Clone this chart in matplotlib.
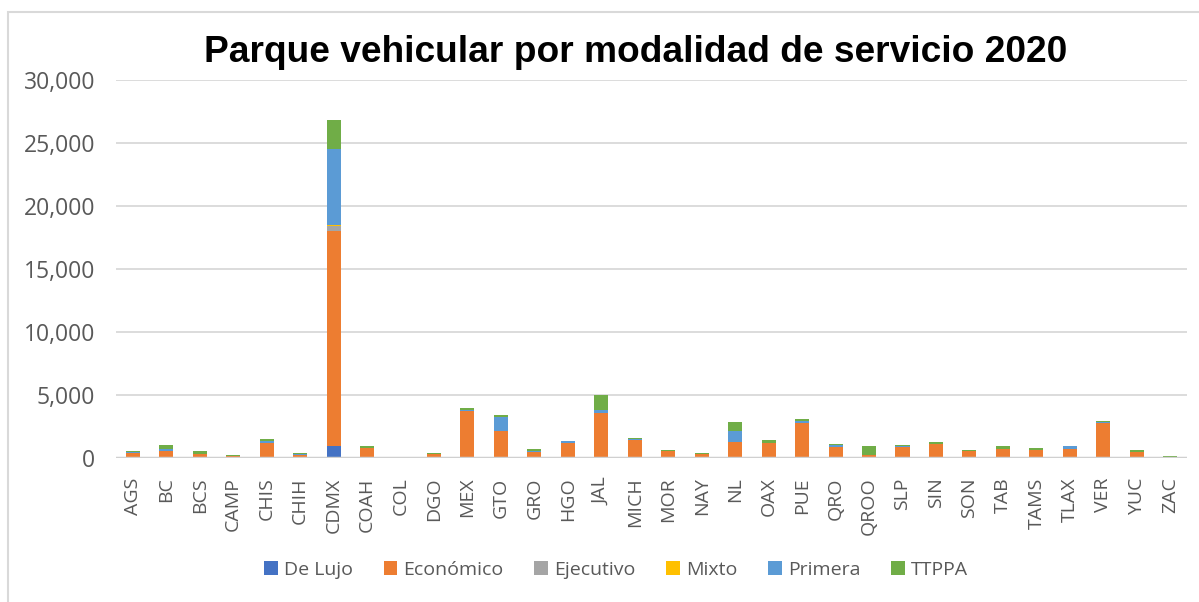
import matplotlib
matplotlib.use("Agg")
import matplotlib.pyplot as plt
from matplotlib.patches import Rectangle, Patch
import numpy as np

categories = ["AGS", "BC", "BCS", "CAMP", "CHIS", "CHIH", "CDMX", "COAH", "COL", "DGO",
              "MEX", "GTO", "GRO", "HGO", "JAL", "MICH", "MOR", "NAY", "NL", "OAX",
              "PUE", "QRO", "QROO", "SLP", "SIN", "SON", "TAB", "TAMS", "TLAX", "VER",
              "YUC", "ZAC"]

de_lujo = [0, 0, 0, 0, 0, 0, 950, 0, 0, 0,
           0, 0, 0, 0, 0, 0, 0, 0, 0, 0,
           0, 0, 0, 0, 0, 0, 0, 0, 0, 0,
           0, 0]
economico = [400, 560, 290, 130, 1190, 265, 17100, 770, 10, 290,
             3730, 2120, 450, 1220, 3570, 1400, 556, 290, 1245, 1190,
             2780, 900, 210, 850, 1085, 556, 715, 610, 715, 2750,
             450, 100]
ejecutivo = [0, 0, 0, 0, 0, 0, 400, 0, 0, 0,
             0, 0, 0, 0, 0, 0, 0, 0, 0, 0,
             0, 0, 0, 0, 0, 0, 0, 0, 0, 0,
             0, 0]
mixto = [0, 0, 0, 0, 0, 0, 80, 0, 0, 0,
         0, 0, 0, 0, 0, 0, 0, 0, 0, 0,
         0, 0, 0, 0, 0, 0, 0, 0, 0, 0,
         0, 0]
primera = [50, 160, 0, 0, 130, 40, 6030, 0, 0, 0,
           80, 1110, 105, 105, 210, 80, 0, 0, 873, 30,
           185, 105, 0, 105, 0, 0, 0, 53, 210, 80,
           0, 0]
ttppa = [80, 290, 238, 80, 160, 130, 2300, 160, 0, 80,
         130, 160, 130, 30, 1220, 80, 53, 80, 715, 210,
         105, 80, 715, 53, 160, 53, 210, 105, 0, 80,
         160, 60]

series_names = ["De Lujo", "Económico", "Ejecutivo", "Mixto", "Primera", "TTPPA"]
series_values = [de_lujo, economico, ejecutivo, mixto, primera, ttppa]
colors = ["#4472C4", "#ED7D31", "#A5A5A5", "#FFC000", "#5B9BD5", "#70AD47"]
yticks = [0, 5000, 10000, 15000, 20000, 25000, 30000]
title = "Parque vehicular por modalidad de servicio 2020"

W, H = 1199, 602
fig = plt.figure(figsize=(W / 100, H / 100), dpi=100)
fig.patch.set_facecolor("white")

# outer chart border
fig.patches.append(Rectangle((8 / W, -0.1), 1.2, (H - 12) / H + 0.1, transform=fig.transFigure,
                             fill=False, edgecolor="#D9D9D9", linewidth=1.5, zorder=0))

left, right = 116 / W, 1187 / W
bottom, top = (H - 458) / H, (H - 80) / H
ax = fig.add_axes([left, bottom, right - left, top - bottom])

x = np.arange(len(categories))
base = np.zeros(len(categories))
for name, vals, c in zip(series_names, series_values, colors):
    v = np.array(vals, dtype=float)
    ax.bar(x, v, bottom=base, width=0.42, color=c, label=name, zorder=3, linewidth=0)
    base += v

ax.set_xlim(-0.5, len(categories) - 0.5)
ax.set_ylim(0, 30000)
ax.set_yticks(yticks)
ax.set_yticklabels([f"{t:,}" for t in yticks])
ax.set_xticks(x)
ax.set_xticklabels(categories, rotation=90)
for s in ax.spines.values():
    s.set_visible(False)
ax.grid(axis="y", color="#D9D9D9", linewidth=1.3, zorder=0)
ax.axhline(0, color="#D0D0D0", linewidth=2.5, zorder=4)
ax.tick_params(axis="both", length=0, colors="#595959")
ax.tick_params(axis="y", pad=15, labelsize=16.5)
ax.tick_params(axis="x", pad=14, labelsize=14)
for lbl in ax.get_xticklabels() + ax.get_yticklabels():
    lbl.set_fontfamily("Open Sans")
    lbl.set_color("#595959")

fig.text(636 / W, (H - 53) / H, title, ha="center", va="center",
         fontsize=26.7, fontweight="bold", family="Liberation Sans", color="black")

handles = [Patch(facecolor=c, edgecolor="none") for c in colors]
leg = fig.legend(handles, series_names, loc="center", bbox_to_anchor=(616 / W, (H - 570) / H),
                 ncol=6, frameon=False, handlelength=0.7, handleheight=0.7,
                 handletextpad=0.3, columnspacing=1.6,
                 prop={"family": "Open Sans", "size": 14})
for t in leg.get_texts():
    t.set_color("#595959")

fig.savefig("out.png", dpi=100, facecolor="white")
